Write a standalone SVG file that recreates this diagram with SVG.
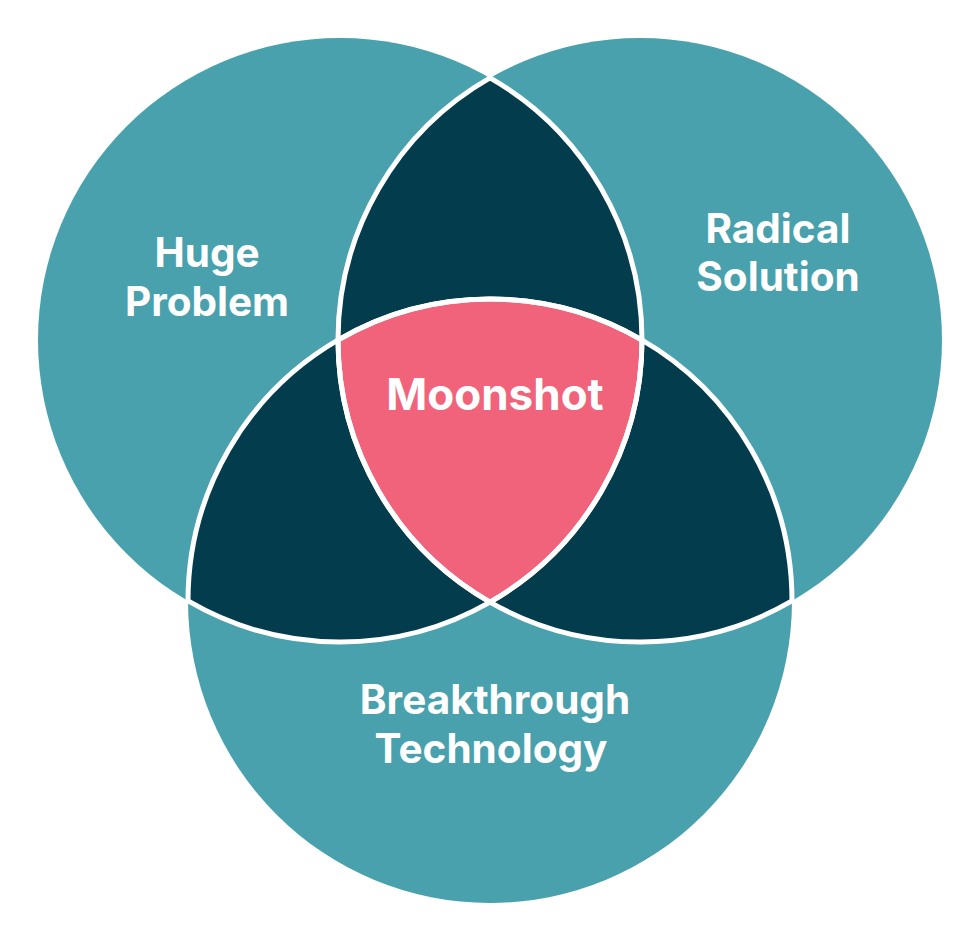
<svg xmlns="http://www.w3.org/2000/svg" width="970" height="930" viewBox="0 0 970 930">
<style>
.circle{fill:#48A1AC}
.dark{fill:#033C4D}
.pink{fill:#F0637B}
.edge{fill:none;stroke:#FFFFFF;stroke-width:5;stroke-linejoin:round}
.lbl{font-family:Inter,"Liberation Sans",sans-serif;font-weight:700;font-size:40.5px;fill:#FFFFFF;text-anchor:middle}
.big{font-size:44px}
</style>
<rect width="970" height="930" fill="#FFFFFF"/>
<g id="huge-problem">
<circle class="circle" cx="340" cy="340" r="302"/>
</g>
<g id="radical-solution">
<circle class="circle" cx="640" cy="340" r="302"/>
</g>
<g id="breakthrough-technology">
<circle class="circle" cx="490" cy="601" r="302"/>
</g>
<g id="overlaps">
<path id="lens-ab" class="dark" d="M490,77.89 A302,302 0 0 1 490,602.11 A302,302 0 0 1 490,77.89 Z"/>
<path id="lens-ac" class="dark" d="M188,600.96 A302,302 0 0 1 642,340.04 A302,302 0 0 1 188,600.96 Z"/>
<path id="lens-bc" class="dark" d="M338,340.04 A302,302 0 0 1 792,600.96 A302,302 0 0 1 338,340.04 Z"/>
</g>
<g id="moonshot">
<path class="pink" d="M338,340.04 A302,302 0 0 1 642,340.04 A302,302 0 0 1 490,602.11 A302,302 0 0 1 338,340.04 Z"/>
</g>
<g id="edges">
<path class="edge" d="M490,77.89 A302,302 0 0 1 490,602.11 A302,302 0 0 1 490,77.89 Z"/>
<path class="edge" d="M188,600.96 A302,302 0 0 1 642,340.04 A302,302 0 0 1 188,600.96 Z"/>
<path class="edge" d="M338,340.04 A302,302 0 0 1 792,600.96 A302,302 0 0 1 338,340.04 Z"/>
</g>
<g id="labels">
<text class="lbl" x="207" y="267">Huge</text>
<text class="lbl" x="207" y="316">Problem</text>
<text class="lbl" x="778" y="243">Radical</text>
<text class="lbl" x="778" y="291">Solution</text>
<text class="lbl" x="495" y="714">Breakthrough</text>
<text class="lbl" x="491" y="763">Technology</text>
<text class="lbl big" x="495" y="410">Moonshot</text>
</g>
</svg>
